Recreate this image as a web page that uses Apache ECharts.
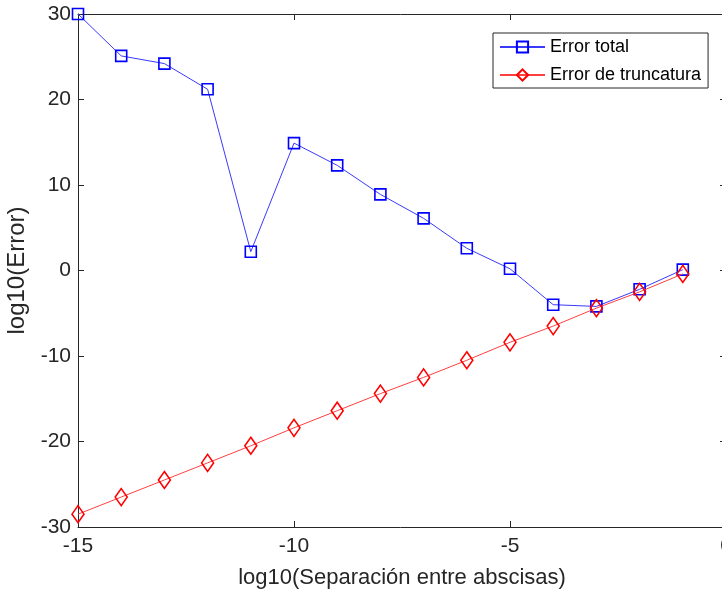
<!DOCTYPE html>
<html>
<head>
<meta charset="utf-8">
<script src="https://cdn.jsdelivr.net/npm/echarts@6/dist/echarts.min.js"></script>
<style>
  html, body { margin: 0; padding: 0; background: #fff; overflow: hidden; }
  #chart { width: 722px; height: 593px; }
</style>
</head>
<body>
<div id="chart"></div>
<script>
// log10 of the step size h
const logH = [-15, -14, -13, -12, -11, -10, -9, -8, -7, -6, -5, -4, -3, -2, -1];
// log10 of the total error (rounding + truncation)
const errorTotal = [30.0, 25.1, 24.2, 21.2, 2.2, 14.9, 12.3, 8.9, 6.1, 2.6, 0.2, -4.0, -4.2, -2.2, 0.1];
// log10 of the truncation error
const errorTruncatura = [-28.5, -26.5, -24.5, -22.5, -20.5, -18.4, -16.4, -14.4, -12.5, -10.5, -8.4, -6.5, -4.4, -2.5, -0.4];

const xTicks = { min: -15, max: 0, interval: 5 };
const yTicks = { min: -30, max: 30, interval: 10 };

const toPairs = (xs, ys) => xs.map((x, i) => [x, ys[i]]);

const axisColor = '#262626';
const font = 'Liberation Sans, Arial, sans-serif';

const chart = echarts.init(document.getElementById('chart'), null, { renderer: 'canvas' });

const baseAxis = {
  type: 'value',
  axisLine: { show: true, onZero: false, lineStyle: { color: axisColor, width: 1 } },
  axisTick: { show: true, inside: true, length: 6, lineStyle: { color: axisColor } },
  splitLine: { show: false }
};

chart.setOption({
  backgroundColor: '#fff',
  animation: false,
  grid: { left: 78, top: 14, right: -4, bottom: 66, containLabel: false, outerBoundsMode: 'none' },
  legend: {
    orient: 'vertical',
    left: 493,
    top: 33,
    padding: [5, 7, 4, 6],
    itemGap: 10,
    itemWidth: 45,
    itemHeight: 14,
    borderColor: axisColor,
    borderWidth: 1,
    borderRadius: 0,
    backgroundColor: '#fff',
    textStyle: { fontFamily: font, fontSize: 18, color: '#000' },
    data: ['Error total', 'Error de truncatura']
  },
  xAxis: [
    Object.assign({}, baseAxis, {
      position: 'bottom',
      min: xTicks.min, max: xTicks.max, interval: xTicks.interval,
      name: 'log10(Separación entre abscisas)',
      nameLocation: 'middle',
      nameGap: 40,
      nameTextStyle: { fontFamily: font, fontSize: 22, color: axisColor },
      axisLabel: { fontFamily: font, fontSize: 21, color: axisColor, margin: 9 }
    }),
    Object.assign({}, baseAxis, {
      position: 'top',
      min: xTicks.min, max: xTicks.max, interval: xTicks.interval,
      axisLabel: { show: false }
    })
  ],
  yAxis: [
    Object.assign({}, baseAxis, {
      position: 'left',
      min: yTicks.min, max: yTicks.max, interval: yTicks.interval,
      name: 'log10(Error)',
      nameLocation: 'middle',
      nameGap: 46,
      nameTextStyle: { fontFamily: font, fontSize: 24, color: axisColor },
      axisLabel: { fontFamily: font, fontSize: 21, color: axisColor, margin: 7 }
    }),
    Object.assign({}, baseAxis, {
      position: 'right',
      min: yTicks.min, max: yTicks.max, interval: yTicks.interval,
      axisLabel: { show: false }
    })
  ],
  series: [
    {
      name: 'Error total',
      type: 'line',
      xAxisIndex: 0,
      yAxisIndex: 0,
      data: toPairs(logH, errorTotal),
      symbol: 'rect',
      symbolSize: 11,
      color: '#0000ff',
      lineStyle: { color: '#3a3aff', width: 1 },
      itemStyle: { color: 'rgba(0,0,0,0)', borderColor: '#0000ff', borderWidth: 1.6 },
      z: 3
    },
    {
      name: 'Error de truncatura',
      type: 'line',
      xAxisIndex: 0,
      yAxisIndex: 0,
      data: toPairs(logH, errorTruncatura),
      symbol: 'diamond',
      symbolSize: [12, 17],
      color: '#ff0000',
      lineStyle: { color: '#ff4040', width: 1 },
      itemStyle: { color: 'rgba(0,0,0,0)', borderColor: '#ff0000', borderWidth: 1.6 },
      z: 4
    }
  ]
});
</script>
</body>
</html>
